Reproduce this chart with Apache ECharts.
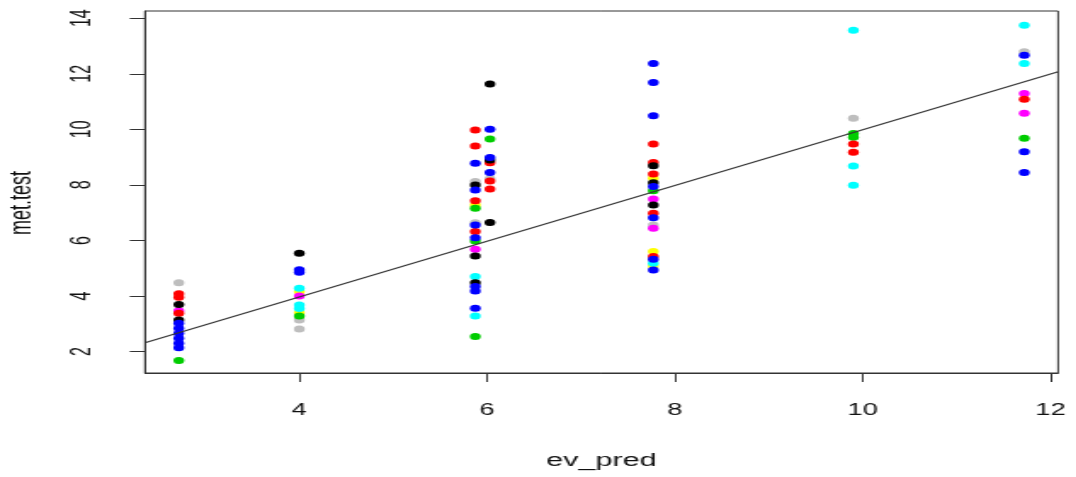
<!DOCTYPE html>
<html>
<head>
<meta charset="utf-8">
<script src="https://cdn.jsdelivr.net/npm/echarts@6/dist/echarts.min.js"></script>
<style>
  html, body { margin: 0; padding: 0; background: #fff; overflow: hidden; }
  #wrap { width: 1076px; height: 477px; overflow: hidden; }
  #chart { width: 633px; height: 477px; transform: scaleX(1.7); transform-origin: 0 0; }
</style>
</head>
<body>
<div id="wrap"><div id="chart"></div></div>
<script>
// ---- data ----
const xTicks = [4, 6, 8, 10, 12];
const yTicks = [2, 4, 6, 8, 10, 12, 14];
const xRange = [2.357, 12.08];
const yRange = [1.23, 14.26];

const grayPts = [[2.717,4.48],[4.0,3.14],[4.0,2.81],[5.874,8.12],[5.874,6.64],[6.03,8.22],[7.77,6.56],[9.9,10.40],[11.72,12.79]];
const yellowPts = [[4.0,4.16],[4.0,3.40],[5.874,7.28],[7.77,8.24],[7.77,5.60],[7.77,5.08]];
const magentaPts = [[2.717,3.47],[4.0,4.00],[5.874,5.68],[7.77,7.49],[7.77,6.44],[11.72,11.29],[11.72,10.58]];
const cyanPts = [[4.0,4.28],[4.0,3.68],[4.0,3.55],[5.874,4.70],[5.874,3.28],[7.77,5.18],[9.9,13.57],[9.9,8.68],[9.9,7.99],[11.72,13.75],[11.72,12.37]];
const greenPts = [[2.717,1.68],[4.0,3.28],[5.874,7.16],[5.874,5.98],[5.874,2.54],[6.03,9.65],[7.77,7.79],[9.9,9.85],[9.9,9.72],[11.72,9.68]];
const redPts = [[2.717,4.08],[2.717,3.96],[2.717,3.38],[5.874,9.98],[5.874,9.40],[5.874,7.43],[5.874,6.32],[6.03,8.80],[6.03,8.14],[6.03,7.85],[7.77,9.47],[7.77,8.81],[7.77,8.39],[7.77,6.98],[7.77,5.42],[9.9,9.47],[9.9,9.18],[11.72,11.08]];
const blackPts = [[2.717,3.70],[2.717,3.14],[4.0,5.54],[5.874,8.00],[5.874,5.44],[5.874,4.48],[6.03,11.63],[6.03,8.90],[6.03,6.65],[7.77,8.69],[7.77,8.08],[7.77,7.28]];
const bluePts = [[2.717,3.02],[2.717,2.84],[2.717,2.66],[2.717,2.48],[2.717,2.30],[2.717,2.14],[4.0,4.95],[4.0,4.86],[5.874,8.78],[5.874,7.82],[5.874,6.56],[5.874,6.10],[5.874,4.34],[5.874,4.18],[5.874,3.56],[6.03,10.00],[6.03,8.99],[6.03,8.45],[7.77,12.37],[7.77,11.69],[7.77,10.49],[7.77,7.94],[7.77,6.82],[7.77,5.32],[7.77,4.94],[11.72,12.67],[11.72,9.19],[11.72,8.45]];

const fitLineX = [2.357, 12.08];
const fitLineY = [2.32, 12.07];

const groups = [
  { name: 'gray', color: '#BEBEBE', pts: grayPts },
  { name: 'yellow', color: '#FFFF00', pts: yellowPts },
  { name: 'magenta', color: '#FF00FF', pts: magentaPts },
  { name: 'cyan', color: '#00FFFF', pts: cyanPts },
  { name: 'green', color: '#00CD00', pts: greenPts },
  { name: 'red', color: '#FF0000', pts: redPts },
  { name: 'black', color: '#000000', pts: blackPts },
  { name: 'blue', color: '#0000FF', pts: bluePts }
];

const chart = echarts.init(document.getElementById('chart'), null, { renderer: 'canvas' });
const font = '"Liberation Sans", Arial, sans-serif';
const textColor = '#111';

const series = groups.map(g => ({
  type: 'scatter',
  name: g.name,
  data: g.pts,
  symbol: 'circle',
  symbolSize: [6.4, 7],
  itemStyle: { color: g.color, opacity: 1 },
  emphasis: { disabled: true },
  z: 3
}));
series.push({
  type: 'line',
  name: 'fit',
  data: fitLineX.map((x, i) => [x, fitLineY[i]]),
  symbol: 'none',
  lineStyle: { color: '#333', width: 1.1 },
  clip: true,
  z: 4
});

chart.setOption({
  animation: false,
  backgroundColor: '#fff',
  grid: {
    left: 85.3, right: 10.6, top: 11, bottom: 104,
    outerBoundsMode: 'none', containLabel: false,
    show: true, borderColor: '#333', borderWidth: 1, backgroundColor: 'transparent'
  },
  xAxis: {
    type: 'value', min: xRange[0], max: xRange[1],
    name: 'ev_pred', nameLocation: 'middle', nameGap: 79,
    nameTextStyle: { fontFamily: font, fontSize: 18, color: textColor },
    axisLine: { show: true, onZero: false, lineStyle: { color: '#333', width: 1 } },
    axisTick: { show: true, customValues: xTicks, length: 9, inside: false, lineStyle: { color: '#333', width: 1 } },
    axisLabel: { customValues: xTicks, margin: 30, fontFamily: font, fontSize: 16, color: textColor },
    splitLine: { show: false }
  },
  yAxis: {
    type: 'value', min: yRange[0], max: yRange[1],
    name: 'met.test', nameLocation: 'middle', nameGap: 63, nameRotate: 90,
    nameTextStyle: { fontFamily: font, fontSize: 18, color: textColor, padding: [0, 22, 0, 0] },
    axisLine: { show: true, onZero: false, lineStyle: { color: '#333', width: 1 } },
    axisTick: { show: true, customValues: yTicks, length: 9, inside: false, lineStyle: { color: '#333', width: 1 } },
    axisLabel: { customValues: yTicks, rotate: 90, align: 'center', verticalAlign: 'bottom', margin: 29, fontFamily: font, fontSize: 16, color: textColor },
    splitLine: { show: false }
  },
  series: series
});
</script>
</body>
</html>
